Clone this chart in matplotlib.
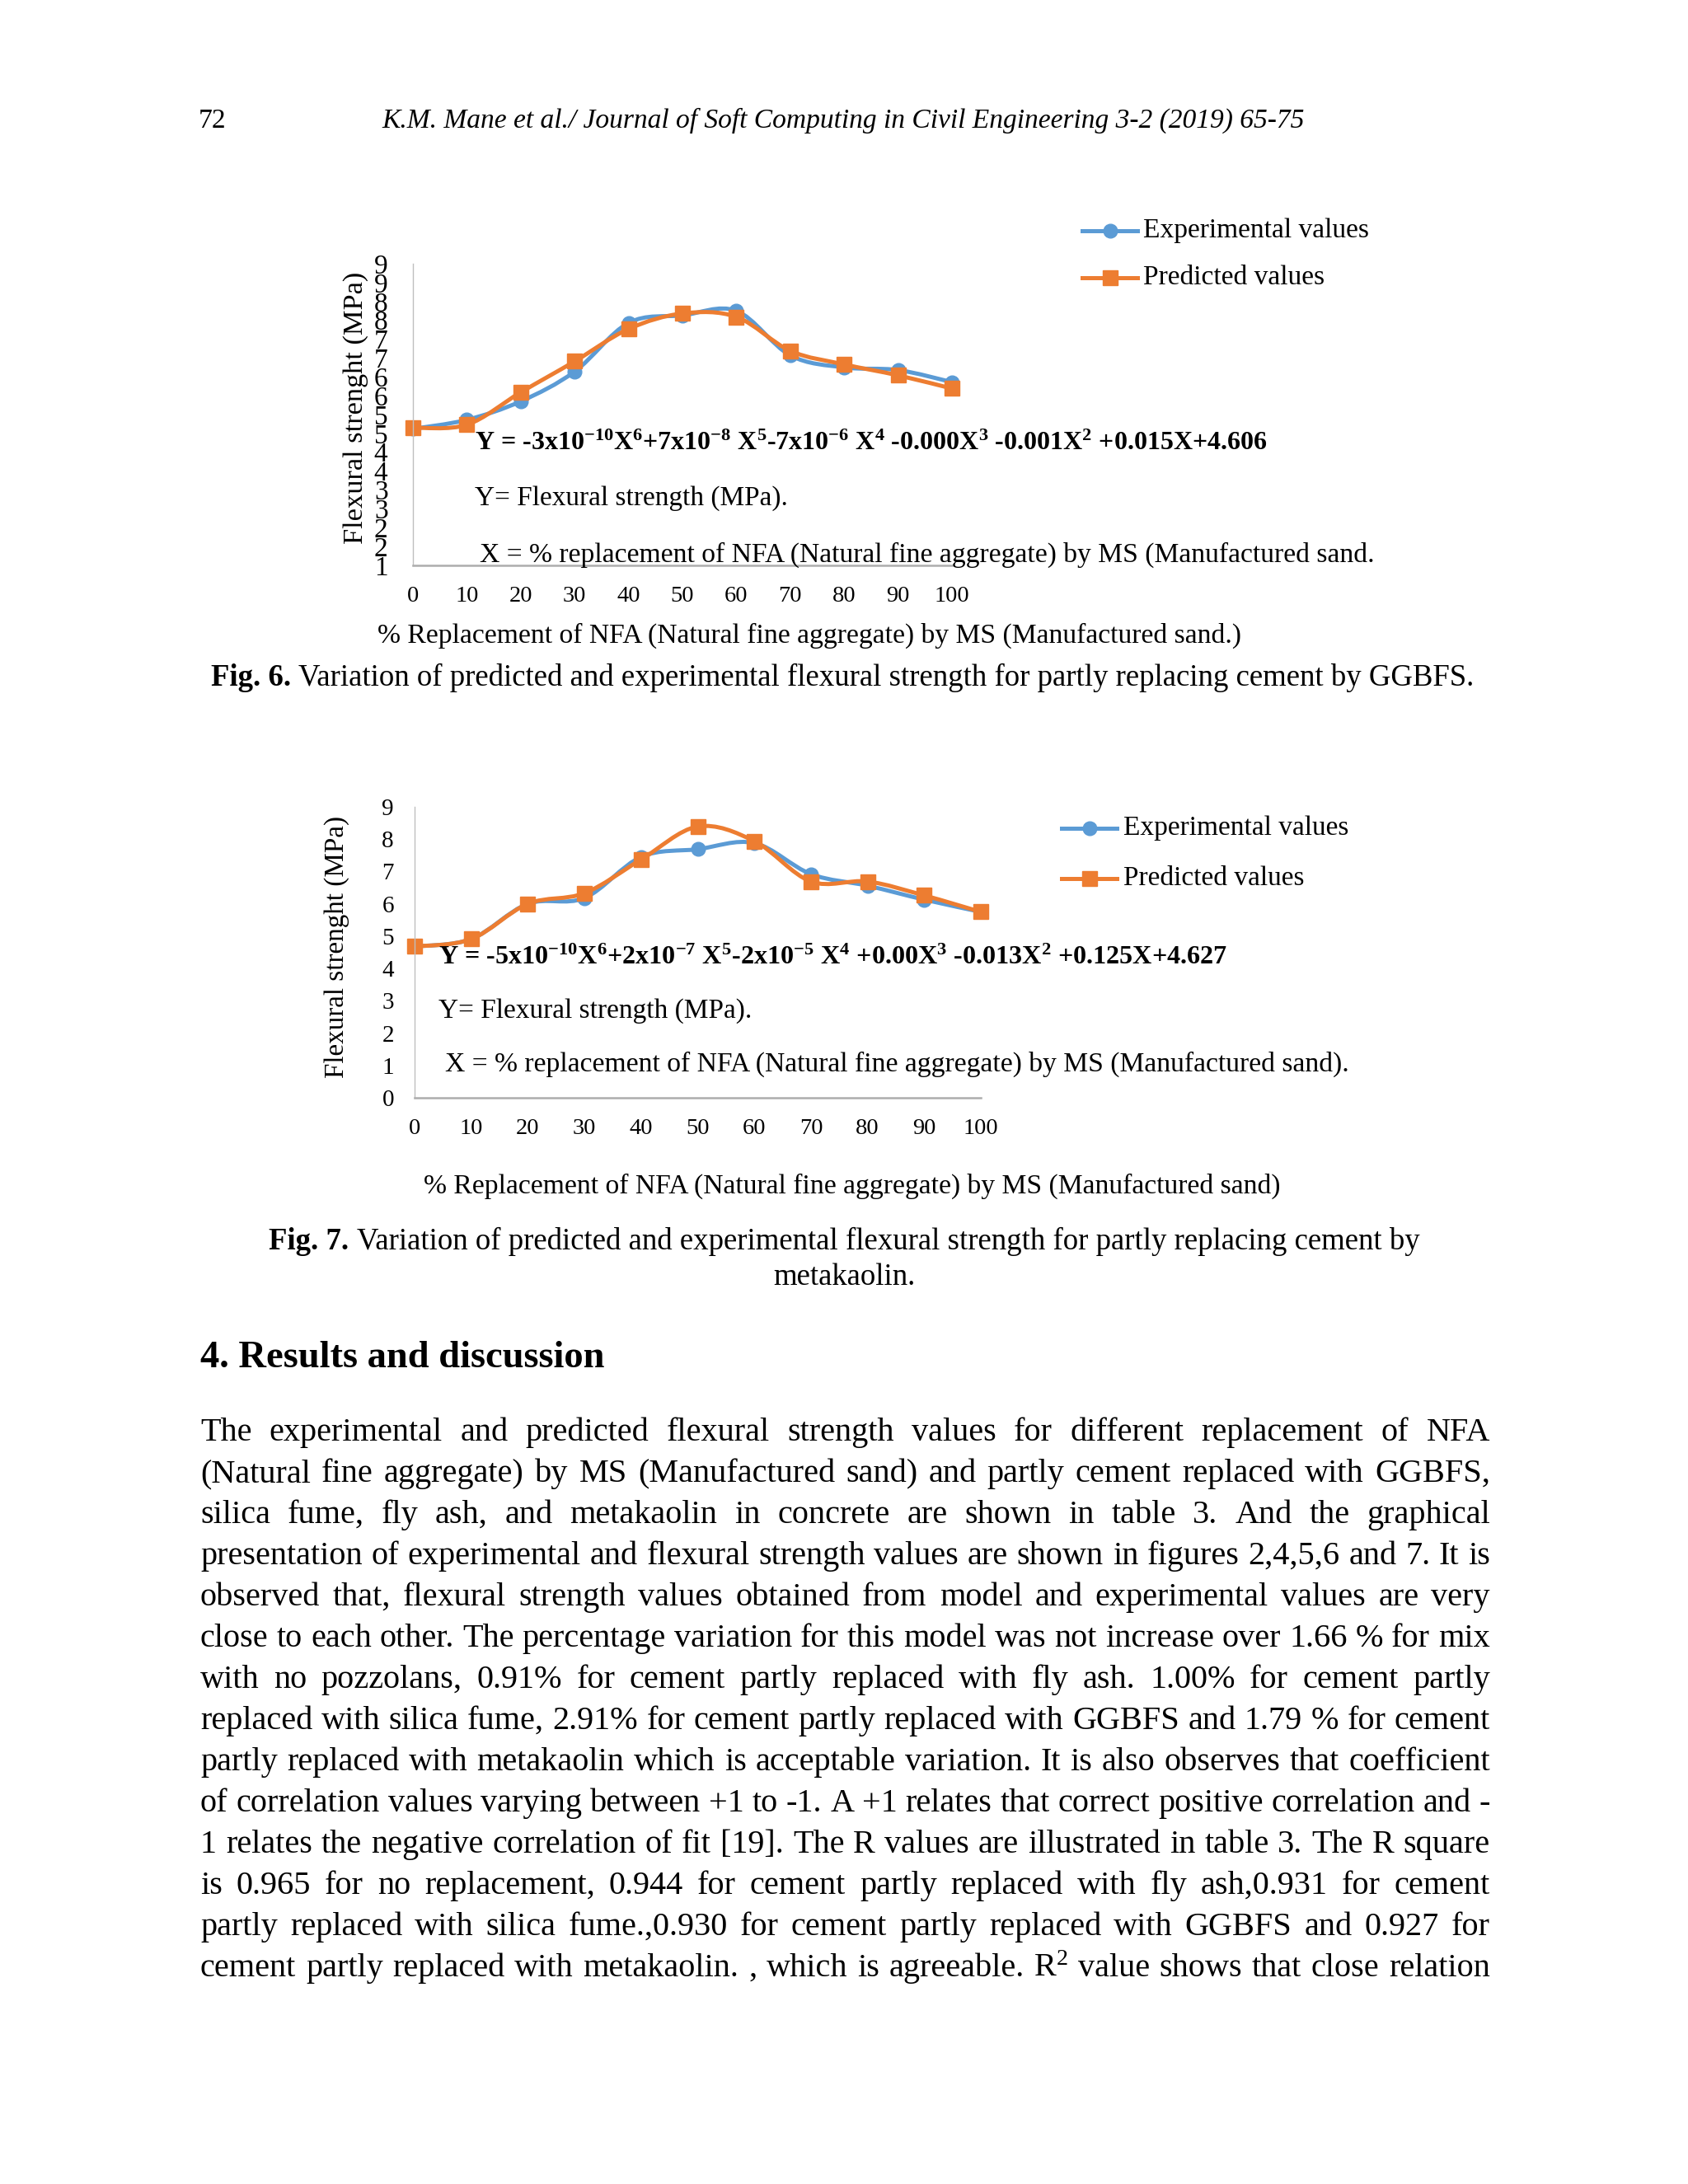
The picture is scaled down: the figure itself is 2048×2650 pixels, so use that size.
import matplotlib
matplotlib.use("Agg")
import matplotlib.pyplot as plt
from matplotlib.lines import Line2D
from matplotlib.patches import PathPatch
from matplotlib.path import Path

plt.rcParams["font.family"] = ["Liberation Serif", "DejaVu Serif"]
plt.rcParams["mathtext.fontset"] = "custom"
plt.rcParams["mathtext.rm"] = "Liberation Serif"
plt.rcParams["mathtext.it"] = "Liberation Serif:italic"
plt.rcParams["mathtext.bf"] = "Liberation Serif:bold"

W, H = 2048, 2650
BLUE = "#5B9BD5"
ORANGE = "#ED7D31"
GREY = "#BFBFBF"

# ---- data ----
replacement = [0, 10, 20, 30, 40, 50, 60, 70, 80, 90, 100]
fig6_exp = [4.62, 4.86, 5.35, 6.14, 7.43, 7.63, 7.75, 6.57, 6.25, 6.18, 5.86]
fig6_pred = [4.65, 4.73, 5.59, 6.41, 7.27, 7.68, 7.59, 6.69, 6.33, 6.04, 5.69]
fig7_exp = [4.68, 4.91, 6.00, 6.18, 7.45, 7.69, 7.88, 6.92, 6.56, 6.13, 5.75]
fig7_pred = [4.68, 4.91, 6.00, 6.33, 7.37, 8.39, 7.94, 6.69, 6.69, 6.26, 5.75]

fig6_yticks = [1, 1.5, 2, 2.5, 3, 3.5, 4, 4.5, 5, 5.5, 6, 6.5, 7, 7.5, 8, 8.5, 9]
fig6_yticklabels = ["1", "2", "2", "3", "3", "4", "4", "5", "5",
                    "6", "6", "7", "7", "8", "8", "9", "9"]
fig7_yticks = [0, 1, 2, 3, 4, 5, 6, 7, 8, 9]
fig7_yticklabels = ["0", "1", "2", "3", "4", "5", "6", "7", "8", "9"]

series_names = ["Experimental values", "Predicted values"]

eq6 = (r"Y = -3x10$^{\mathbf{-10}}$X$^{\mathbf{6}}$+7x10$^{\mathbf{-8}}$ X$^{\mathbf{5}}$"
       r"-7x10$^{\mathbf{-6}}$ X$^{\mathbf{4}}$ -0.000X$^{\mathbf{3}}$ -0.001X$^{\mathbf{2}}$ +0.015X+4.606")
eq7 = (r"Y = -5x10$^{\mathbf{-10}}$X$^{\mathbf{6}}$+2x10$^{\mathbf{-7}}$ X$^{\mathbf{5}}$"
       r"-2x10$^{\mathbf{-5}}$ X$^{\mathbf{4}}$ +0.00X$^{\mathbf{3}}$ -0.013X$^{\mathbf{2}}$ +0.125X+4.627")
y_def = "Y= Flexural strength (MPa)."
x_def6 = "X = % replacement of NFA (Natural fine aggregate) by MS (Manufactured sand."
x_def7 = "X = % replacement of NFA (Natural fine aggregate) by MS (Manufactured sand)."
xlabel6 = "% Replacement of NFA (Natural fine aggregate) by MS (Manufactured sand.)"
xlabel7 = "% Replacement of NFA (Natural fine aggregate) by MS (Manufactured sand)"
ylabel = "Flexural strenght (MPa)"

header = "K.M. Mane et al./ Journal of Soft Computing in Civil Engineering 3-2 (2019) 65-75"
cap6 = "Variation of predicted and experimental flexural strength for partly replacing cement by GGBFS."
cap7a = "Variation of predicted and experimental flexural strength for partly replacing cement by"
cap7b = "metakaolin."
heading = "4. Results and discussion"
body_lines = [
    "The experimental and predicted flexural strength values for different replacement of NFA",
    "(Natural fine aggregate) by MS (Manufactured sand) and partly cement replaced with GGBFS,",
    "silica fume, fly ash, and metakaolin in concrete are shown in table 3. And the graphical",
    "presentation of experimental and flexural strength values are shown in figures 2,4,5,6 and 7. It is",
    "observed that, flexural strength values obtained from model and experimental values are very",
    "close to each other. The percentage variation for this model was not increase over 1.66 % for mix",
    "with no pozzolans, 0.91% for cement partly replaced with fly ash. 1.00% for cement partly",
    "replaced with silica fume, 2.91% for cement partly replaced with GGBFS and 1.79 % for cement",
    "partly replaced with metakaolin which is acceptable variation. It is also observes that coefficient",
    "of correlation values varying between +1 to -1. A +1 relates that correct positive correlation and -",
    "1 relates the negative correlation of fit [19]. The R values are illustrated in table 3. The R square",
    "is 0.965 for no replacement, 0.944 for cement partly replaced with fly ash,0.931 for cement",
    "partly replaced with silica fume.,0.930 for cement partly replaced with GGBFS and 0.927 for",
    "cement partly replaced with metakaolin. , which is agreeable. R$^{2}$ value shows that close relation",
]

fig = plt.figure(figsize=(W / 100, H / 100), dpi=100)
fig.patch.set_facecolor("white")
R = fig.canvas.get_renderer()


def fx(x):
    return x / W


def fy(y):
    return 1 - y / H


def put(x, y, s, size=20, ha="left", va="baseline", **kw):
    return fig.text(fx(x), fy(y), s, fontsize=size, ha=ha, va=va, **kw)


def fit(t, length, vertical=False):
    bb = t.get_window_extent(R)
    cur = bb.height if vertical else bb.width
    t.set_fontsize(t.get_fontsize() * length / cur)
    return t.get_fontsize()


def smooth(x, y):
    # Excel style smoothed line: Catmull-Rom segments as cubic Bezier curves
    n = len(x)
    verts = [(x[0], y[0])]
    codes = [Path.MOVETO]
    for i in range(n - 1):
        x0, y0 = (x[i - 1], y[i - 1]) if i > 0 else (x[i], y[i])
        x3, y3 = (x[i + 2], y[i + 2]) if i + 2 < n else (x[i + 1], y[i + 1])
        c1 = (x[i] + (x[i + 1] - x0) / 6, y[i] + (y[i + 1] - y0) / 6)
        c2 = (x[i + 1] - (x3 - x[i]) / 6, y[i + 1] - (y3 - y[i]) / 6)
        verts += [c1, c2, (x[i + 1], y[i + 1])]
        codes += [Path.CURVE4] * 3
    return Path(verts, codes)


MARKERS = ((BLUE, "o", 12), (ORANGE, "s", 12.5))


def chart(box, ylim, yticks, yticklabels, exp, pred, ypad, ysize):
    left, right, top, bottom = box
    ax = fig.add_axes([fx(left), fy(bottom), (right - left) / W, (bottom - top) / H])
    ax.set_xlim(0, 100)
    ax.set_ylim(*ylim)
    for s in ("top", "right"):
        ax.spines[s].set_visible(False)
    ax.spines["left"].set_color(GREY)
    ax.spines["left"].set_linewidth(1.0)
    ax.spines["bottom"].set_color("#ADADAD")
    ax.spines["bottom"].set_linewidth(1.8)
    ax.set_xticks(replacement)
    ax.set_yticks(yticks)
    ax.set_yticklabels(yticklabels)
    ax.tick_params(axis="x", length=0, pad=18, labelsize=20.5)
    ax.tick_params(axis="y", length=0, pad=ypad, labelsize=ysize)
    ax.patch.set_alpha(0)
    for vals, (col, mk, ms) in zip((exp, pred), MARKERS):
        ax.add_patch(PathPatch(smooth(replacement, vals), fill=False, edgecolor=col,
                               lw=3.6, capstyle="round", joinstyle="round", clip_on=False))
        ax.plot(replacement, vals, ls="none", marker=mk, ms=ms, color=col, clip_on=False)
    return ax


def legend(x0, x1, ys, tx, width):
    for name, y, (col, mk, ms) in zip(series_names, ys, MARKERS):
        fig.add_artist(Line2D([fx(x0), fx((x0 + x1) / 2), fx(x1)], [fy(y)] * 3,
                              transform=fig.transFigure, color=col, lw=3.6,
                              marker=mk, ms=ms, markevery=[1]))
    t = put(tx, ys[0], series_names[0], va="center")
    size = fit(t, width)
    put(tx, ys[1], series_names[1], size=size, va="center")


def fitted(x0, x1, y, s, **kw):
    t = put(x0, y, s, **kw)
    fit(t, x1 - x0)
    return t


def two_part(center, width, y, bold, rest):
    a = put(0, y, bold, fontweight="bold")
    b = put(0, y, rest)
    wa = a.get_window_extent(R).width
    wb = b.get_window_extent(R).width
    gap = 0.25 * 20 / 0.72
    k = width / (wa + wb + gap)
    a.set_fontsize(20 * k)
    b.set_fontsize(20 * k)
    start = center - width / 2
    a.set_x(fx(start))
    b.set_x(fx(start + (wa + gap) * k))
    return 20 * k


# ---- page header ----
hd = fitted(463, 1583, 155, header, style="italic")
put(241, 155, "72", size=hd.get_fontsize())

# ---- Fig. 6 ----
chart((501, 1155, 320, 686), (1, 9), fig6_yticks, fig6_yticklabels, fig6_exp, fig6_pred, 22, 24)
fitted(576, 1538, 546, eq6, fontweight="bold")
fitted(576, 955, 613, y_def)
fitted(582, 1667, 682, x_def6)
legend(1313, 1380, (280, 337), 1387, 275)
t = put(432, 495, ylabel, ha="center", va="center", rotation=90)
fit(t, 330, vertical=True)
t = put(982, 780, xlabel6, ha="center")
fit(t, 1049)
two_part(1022, 1533, 832, "Fig. 6.", cap6)

# ---- Fig. 7 ----
chart((503, 1190, 979, 1332), (0, 9), fig7_yticks, fig7_yticklabels, fig7_exp, fig7_pred, 18, 21)
fitted(532, 1487, 1170, eq7, fontweight="bold")
fitted(532, 913, 1235, y_def)
fitted(540, 1637, 1300, x_def7)
legend(1288, 1355, (1005, 1066), 1363, 274)
t = put(409, 1149, ylabel, ha="center", va="center", rotation=90)
fit(t, 318, vertical=True)
t = put(1034, 1448, xlabel7, ha="center")
fit(t, 1039)
cs = two_part(1025, 1397, 1516, "Fig. 7.", cap7a)
put(1024, 1559, cap7b, size=cs, ha="center")

# ---- section text ----
fitted(243, 734, 1659, heading, fontweight="bold")

LEFT, RIGHT = 243, 1808
probe = [put(0, 0, ln, size=20) for ln in body_lines]
widest = max(p.get_window_extent(R).width for p in probe)
for p in probe:
    p.remove()
body_size = 20 * (RIGHT - LEFT) / widest

for i, ln in enumerate(body_lines):
    y = 1748 + 50 * i
    words = ln.split(" ")
    texts = [put(0, y, w, size=body_size) for w in words]
    widths = [t.get_window_extent(R).width for t in texts]
    gap = (RIGHT - LEFT - sum(widths)) / (len(words) - 1)
    x = LEFT
    for t, w in zip(texts, widths):
        t.set_x(fx(x))
        x += w + gap

fig.savefig("out.png", dpi=100, facecolor="white")
